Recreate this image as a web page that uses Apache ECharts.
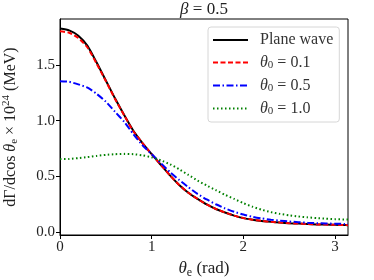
<!DOCTYPE html>
<html><head><meta charset="utf-8">
<script src="https://cdn.jsdelivr.net/npm/echarts@6/dist/echarts.min.js"></script>
<style>html,body{margin:0;padding:0;background:#fff}#c{width:374px;height:280px}</style>
</head><body><div id="c"></div>
<script>
const xs = [0,0.1,0.2,0.3,0.4,0.5,0.6,0.7,0.8,0.9,1.0,1.1,1.2,1.3,1.4,1.5,1.6,1.7,1.8,1.9,2.0,2.1,2.2,2.3,2.4,2.5,2.6,2.7,2.8,2.9,3.0,3.1,3.14159];
const planeWave = [1.824,1.808,1.76,1.67,1.52,1.36,1.20,1.05,0.91,0.80,0.70,0.605,0.51,0.425,0.355,0.30,0.25,0.21,0.178,0.15,0.128,0.114,0.103,0.095,0.088,0.083,0.079,0.075,0.072,0.070,0.068,0.066,0.065];
const theta01 = [1.80,1.787,1.74,1.655,1.51,1.355,1.195,1.048,0.905,0.80,0.70,0.605,0.51,0.425,0.355,0.30,0.25,0.21,0.178,0.15,0.128,0.114,0.103,0.095,0.088,0.083,0.079,0.075,0.072,0.070,0.068,0.066,0.065];
const theta05 = [1.353,1.348,1.325,1.295,1.24,1.17,1.08,0.99,0.88,0.78,0.70,0.62,0.54,0.47,0.405,0.345,0.295,0.252,0.215,0.185,0.16,0.14,0.125,0.114,0.105,0.098,0.092,0.087,0.083,0.080,0.078,0.076,0.075];
const theta10 = [0.656,0.658,0.665,0.674,0.685,0.694,0.70,0.703,0.70,0.69,0.672,0.645,0.61,0.565,0.515,0.465,0.42,0.378,0.337,0.30,0.262,0.23,0.203,0.182,0.166,0.153,0.143,0.135,0.128,0.123,0.119,0.116,0.115];
const names = ['Plane wave','θ0 = 0.1','θ0 = 0.5','θ0 = 1.0'];
const xTicks = [0,1,2,3];
const yTicks = [0,0.5,1.0,1.5];

const serif = 'Liberation Serif';
function pairs(ys){return xs.map((x,i)=>[x,ys[i]]);}
function mk(name, ys, color, type){
  return {name, type:'line', data:pairs(ys), showSymbol:false, symbol:'none', smooth:0.2,
    lineStyle:{color, width:2, type}, itemStyle:{color}, z:2};
}
const chart = echarts.init(document.getElementById('c'), null, {renderer:'canvas'});
chart.setOption({
  animation:false,
  title:{text:'{i|β} = 0.5', left:204, top:1, textAlign:'center', padding:0,
    textStyle:{fontFamily:serif, fontSize:17, fontWeight:'normal', color:'#222',
      rich:{i:{fontFamily:serif, fontStyle:'italic', fontSize:17, color:'#222'}}}},
  grid:{left:60, right:26, top:19, bottom:45, show:true, borderColor:'#000', borderWidth:1, containLabel:false, outerBoundsMode:'none'},
  legend:{orient:'vertical', left:208, top:27, padding:[5,6,5,4], itemGap:6, itemWidth:35, itemHeight:16,
    backgroundColor:'rgba(255,255,255,0.8)', borderColor:'#d6d6d6', borderWidth:1, borderRadius:3,
    itemStyle:{opacity:0},
    data:names,
    formatter:function(n){ if(n==='Plane wave') return '{n|Plane wave}'; const p=n.split(' = '); return '{i|θ}{s|0}{n| = '+p[1]+'}'; },
    textStyle:{fontFamily:serif, fontSize:16, color:'#333', padding:[0,0,0,7], lineHeight:16,
      rich:{n:{fontFamily:serif, fontSize:16, color:'#333', lineHeight:16}, i:{fontFamily:serif, fontStyle:'italic', fontSize:16, color:'#333', lineHeight:16}, s:{fontFamily:serif, fontSize:11, color:'#333', lineHeight:16, padding:[6,0,0,0]}}}},
  xAxis:{type:'value', min:0, max:Math.PI, 
    axisLine:{show:true, onZero:false, lineStyle:{color:'#000', width:1}},
    axisTick:{show:true, length:4, inside:false, customValues:xTicks, lineStyle:{color:'#000'}},
    axisLabel:{customValues:xTicks, fontFamily:serif, fontSize:15, color:'#222', margin:5},
    splitLine:{show:false},
    name:'{i|θ}{s|e}{n| (rad)}', nameLocation:'middle', nameGap:22,
    nameTextStyle:{fontFamily:serif, fontSize:17, color:'#222',
      rich:{n:{fontFamily:serif, fontSize:17, color:'#222'}, i:{fontFamily:serif, fontStyle:'italic', fontSize:17, color:'#222'}, s:{fontFamily:serif, fontSize:12, color:'#222', padding:[8,0,0,0]}}}},
  yAxis:{type:'value', min:-0.023, max:1.91,
    axisLine:{show:true, onZero:false, lineStyle:{color:'#000', width:1}},
    axisTick:{show:true, length:4, inside:false, customValues:yTicks, lineStyle:{color:'#000'}},
    axisLabel:{customValues:yTicks, fontFamily:serif, fontSize:15, color:'#222', margin:5, formatter:v=>v.toFixed(1)},
    splitLine:{show:false},
    name:'{n|dΓ/dcos }{i|θ}{s|e}{n| × 10}{p|24}{n| (MeV)}', nameLocation:'middle', nameGap:40, nameRotate:90,
    nameTextStyle:{fontFamily:serif, fontSize:16, color:'#222',
      rich:{n:{fontFamily:serif, fontSize:16, color:'#222'}, i:{fontFamily:serif, fontStyle:'italic', fontSize:16, color:'#222'}, s:{fontFamily:serif, fontSize:11, color:'#222', padding:[8,0,0,0]}, p:{fontFamily:serif, fontSize:11, color:'#222', padding:[0,0,8,0]}}}},
  series:[
    mk(names[0], planeWave, '#000000', 'solid'),
    mk(names[1], theta01, '#ff0000', [5,2.5]),
    mk(names[2], theta05, '#0000ff', [7,2.5,1.5,2.5]),
    mk(names[3], theta10, '#008000', [1.5,2.5])
  ]
});
</script></body></html>
